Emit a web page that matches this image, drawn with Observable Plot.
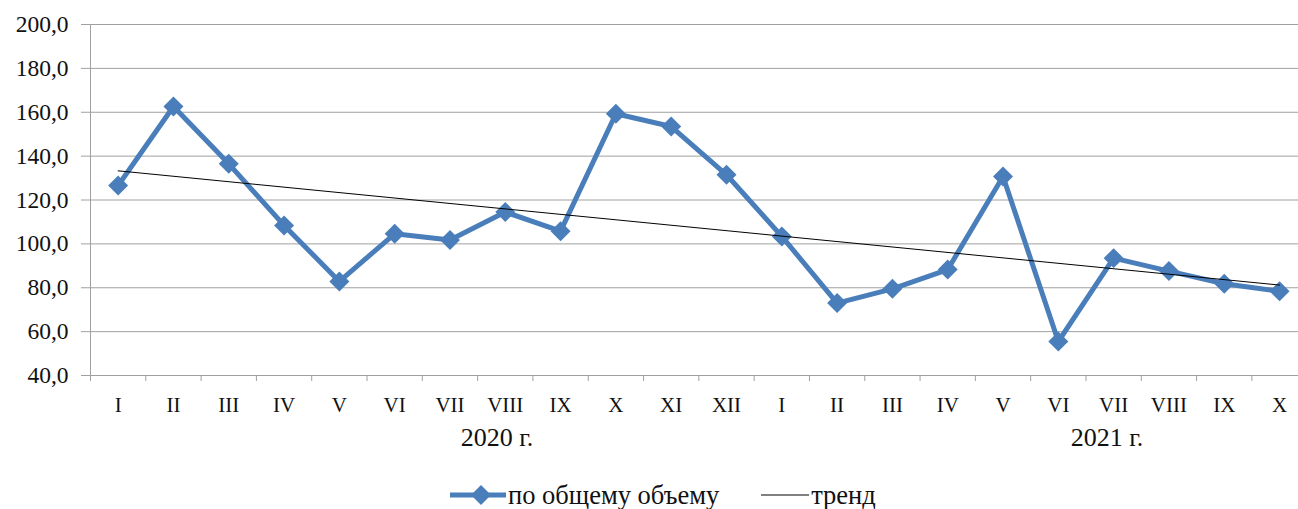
<!DOCTYPE html>
<html><head><meta charset="utf-8">
<script src="https://cdn.jsdelivr.net/npm/d3@7"></script>
<script src="https://cdn.jsdelivr.net/npm/@observablehq/plot@0.6"></script>
<style>
html,body{margin:0;padding:0;background:#fff;}
body{font-family:"Liberation Serif",serif;color:#111;width:1298px;overflow:hidden;}
#legend{display:flex;align-items:center;height:60px;font-size:26.5px;padding-left:450px;font-family:"Liberation Serif",serif;}
#legend svg{display:block;flex:none;}
#legend span{margin-left:2px;font-family:"Liberation Serif",serif;white-space:nowrap;}
</style></head><body>
<div id="chart"></div>
<div id="legend"></div>
<script>
// ---- data ----
const months2020 = ["I","II","III","IV","V","VI","VII","VIII","IX","X","XI","XII"];
const months2021 = ["I","II","III","IV","V","VI","VII","VIII","IX","X"];
const values2020 = [126.6, 162.6, 136.5, 108.4, 82.9, 104.6, 101.8, 114.5, 105.8, 159.3, 153.5, 131.5];
const values2021 = [103.4, 73.0, 79.5, 88.3, 130.7, 55.5, 93.5, 87.6, 81.8, 78.4];
const yearLabels = ["2020 г.", "2021 г."];
const yearLabelAt = [6.85, 17.88];
const yTicks = [40, 60, 80, 100, 120, 140, 160, 180, 200];
const seriesName = "по общему объему";
const trendName = "тренд";

// ---- build ----
const labels = months2020.concat(months2021);
const values = values2020.concat(values2021);
const data = values.map((v, i) => ({i, v, label: labels[i]}));

const W = 1298, H = 465, pLeft = 90, pTop = 24, pBottom = 375, pRight = 1306.7;
const blue = "#4a7ebb", gray = "#a0a0a0";
const serif = '"Liberation Serif", serif';

const chart = Plot.plot({
  width: W, height: H,
  marginLeft: pLeft, marginTop: pTop, marginBottom: H - pBottom, marginRight: W - pRight,
  style: {fontFamily: serif, fontSize: "21px", color: "#111", background: "white", overflow: "visible"},
  x: {type: "linear", domain: [-0.5, labels.length - 0.5], range: [pLeft, pRight], axis: null},
  y: {domain: [40, 200], range: [pBottom, pTop], axis: null},
  marks: [
    Plot.gridY(yTicks, {stroke: gray, strokeOpacity: 1}),
    Plot.frame({stroke: gray}),
    Plot.axisY(yTicks, {label: null, tickSize: 9, tickPadding: 13, tickFormat: d => d.toFixed(1).replace(".", ","), stroke: gray, fill: "#111", fontSize: 23.5, fontFamily: serif}),
    Plot.axisX(d3.range(-0.5, labels.length, 1), {label: null, tickSize: 6, tickFormat: () => "", stroke: gray}),
    Plot.axisX(d3.range(labels.length), {label: null, tickSize: 0, tickPadding: 22, tickFormat: i => labels[i], fill: "#111", fontSize: 21, fontFamily: serif}),
    Plot.text(yearLabels, {x: (d, i) => yearLabelAt[i], frameAnchor: "bottom", dy: 70, text: d => d, fill: "#111", fontSize: 26, fontFamily: serif}),
    Plot.line(data, {x: "i", y: "v", stroke: blue, strokeWidth: 5, strokeLinejoin: "round"}),
    Plot.dot(data, {x: "i", y: "v", symbol: "diamond2", r: 9, fill: blue, stroke: "none"}),
    Plot.linearRegressionY(data, {x: "i", y: "v", ci: 0, stroke: "black", strokeWidth: 1})
  ]
});
document.getElementById("chart").appendChild(chart);

const legend = document.getElementById("legend");
legend.innerHTML =
  `<svg width="56" height="22"><line x1="0" y1="11" x2="56" y2="11" stroke="${blue}" stroke-width="5"/>` +
  `<path d="M31,1 L41,11 L31,21 L21,11 Z" fill="${blue}"/></svg>` +
  `<span>${seriesName}</span>` +
  `<svg width="48" height="22" style="margin-left:42px"><line x1="0" y1="11" x2="48" y2="11" stroke="black" stroke-width="1"/></svg>` +
  `<span>${trendName}</span>`;
</script>
</body></html>
